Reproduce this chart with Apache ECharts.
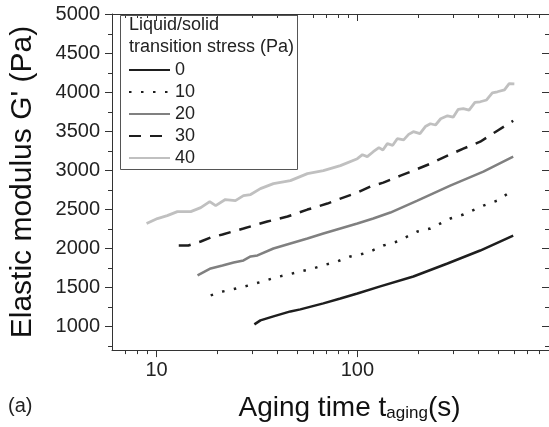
<!DOCTYPE html>
<html>
<head>
<meta charset="utf-8">
<script src="https://cdn.jsdelivr.net/npm/echarts@6/dist/echarts.min.js"></script>
<style>
html,body{margin:0;padding:0;background:#fff;}
#c{width:549px;height:427px;}
</style>
</head>
<body>
<div id="c"></div>
<script>
// ---- data (aging time in s, elastic modulus G' in Pa) ----
const seriesNames = ['0', '10', '20', '30', '40'];

const t0 = [30.7, 32.9, 38.2, 46.4, 52.0, 67.7, 82.3, 100, 130, 190, 281, 409, 597];
const g0 = [1029, 1080, 1132, 1195, 1221, 1298, 1361, 1425, 1515, 1642, 1808, 1974, 2166];

const t10 = [18.6, 21.5, 25.0, 28.7, 33.7, 39.1, 45.4, 52.0, 60.4, 70.1, 79.5, 92.2, 103.5, 116, 134.6, 158, 199, 231, 290, 337, 424, 498, 590];
const g10 = [1400, 1451, 1489, 1527, 1578, 1630, 1668, 1706, 1745, 1796, 1834, 1898, 1923, 1962, 2038, 2089, 2217, 2255, 2383, 2434, 2549, 2613, 2741];

const t20 = [16.0, 18.6, 21.3, 24.2, 27.1, 29.4, 31.8, 38.2, 46.4, 56.4, 67.7, 82.3, 100, 120, 146, 199, 290, 424, 597];
const g20 = [1655, 1745, 1783, 1821, 1847, 1898, 1911, 2000, 2064, 2128, 2191, 2255, 2319, 2383, 2460, 2613, 2805, 2983, 3175];

const t30 = [12.9, 14.4, 16.6, 18.6, 21.3, 23.9, 27.1, 30.4, 35.6, 44.9, 56.4, 70.9, 82.3, 100, 116, 134.6, 164, 190, 231, 281, 337, 409, 498, 597];
const g30 = [2038, 2038, 2089, 2140, 2179, 2217, 2255, 2294, 2345, 2409, 2498, 2575, 2638, 2715, 2792, 2843, 2932, 2996, 3085, 3188, 3277, 3366, 3507, 3634];

const t40 = [8.92, 10.1, 11.3, 12.7, 14.8, 16.6, 18.4, 19.7, 22.0, 24.7, 27.1, 29.4, 32.9, 38.2, 46.4, 56.4, 67.7, 82.3, 100, 106, 112, 120, 128, 134, 141, 150, 158, 170, 180, 190, 205, 218, 231, 245, 260, 281, 300, 318, 337, 360, 385, 409, 440, 470, 498, 540, 570, 605];
const g40 = [2319, 2383, 2421, 2472, 2472, 2523, 2600, 2549, 2626, 2613, 2677, 2690, 2766, 2830, 2868, 2958, 2996, 3060, 3149, 3200, 3175, 3238, 3290, 3260, 3341, 3320, 3405, 3390, 3460, 3494, 3470, 3560, 3596, 3580, 3660, 3698, 3680, 3780, 3788, 3770, 3870, 3877, 3900, 3990, 4005, 4030, 4110, 4107];

// axis ranges and minor tick values
const X_MIN = 6, X_MAX = 900;
const Y_MIN = 700, Y_MAX = 5000;
const xMinorTicks = [7, 8, 9, 20, 30, 40, 50, 60, 70, 80, 90, 200, 300, 400, 500, 600, 700, 800];
const yMinorTicks = [750, 1250, 1750, 2250, 2750, 3250, 3750, 4250, 4750];

const zip = (a, b) => a.map((v, i) => [v, b[i]]);
const AX = '#333';
const FONT = 'Liberation Sans, Arial, sans-serif';

const chart = echarts.init(document.getElementById('c'), null, {renderer: 'canvas'});

function mkLine(name, t, g, color, type, width) {
  return {
    name: name, type: 'line', data: zip(t, g), symbol: 'none', smooth: false,
    xAxisIndex: 0, yAxisIndex: 0,
    lineStyle: {color: color, width: width, type: type},
    itemStyle: {color: color},
    emphasis: {disabled: true}, animation: false, z: 3
  };
}

const option = {
  animation: false,
  backgroundColor: '#fff',
  grid: {left: 111, right: -2, top: 14, bottom: 75, containLabel: false},
  title: {
    text: 'Liquid/solid\ntransition stress (Pa)',
    left: 129, top: 14, padding: 0,
    textStyle: {fontFamily: FONT, fontSize: 18, fontWeight: 'normal', color: '#222', lineHeight: 22}
  },
  legend: {
    data: seriesNames,
    orient: 'vertical', left: 128, top: 61, padding: 0,
    itemWidth: 41, itemHeight: 14, itemGap: 4,
    itemStyle: {opacity: 0},
    textStyle: {fontFamily: FONT, fontSize: 18, color: '#222', lineHeight: 18},
    selectedMode: false
  },
  graphic: [
    {type: 'rect', left: 118, top: 13, shape: {width: 177, height: 154}, style: {fill: 'none', stroke: '#555', lineWidth: 1}, z: 10, silent: true},
    {type: 'text', left: 8, top: 396, style: {text: '(a)', fontFamily: FONT, fontSize: 20, fill: '#222'}}
  ],
  xAxis: [
    {
      type: 'log', logBase: 10, min: X_MIN, max: X_MAX, position: 'bottom',
      name: '{a|Aging time t}{b|aging}{a|(s)}', nameLocation: 'middle', nameGap: 34,
      nameTextStyle: {
        padding: [0, 0, 0, 38],
        rich: {
          a: {fontFamily: FONT, fontSize: 28, color: '#111', lineHeight: 28, verticalAlign: 'top'},
          b: {fontFamily: FONT, fontSize: 17, color: '#111', lineHeight: 17, verticalAlign: 'bottom', padding: [20, 0, 0, 0]}
        }
      },
      axisLine: {show: true, lineStyle: {color: AX, width: 1}},
      axisTick: {show: true, inside: false, length: 7, lineStyle: {color: AX}},
      axisLabel: {show: true, margin: 10, fontFamily: FONT, fontSize: 20, color: '#222', showMinLabel: false, showMaxLabel: false,
        formatter: v => String(Math.round(v))},
      splitLine: {show: false}, minorTick: {show: false}
    },
    {
      type: 'log', logBase: 10, min: X_MIN, max: X_MAX, position: 'top',
      axisLine: {show: true, lineStyle: {color: AX, width: 1}},
      axisTick: {show: true, inside: true, length: 7, lineStyle: {color: AX}},
      axisLabel: {show: false}, splitLine: {show: false}
    }
  ],
  yAxis: [
    {
      type: 'value', min: Y_MIN, max: Y_MAX, splitNumber: 9, position: 'left',
      name: "Elastic modulus G' (Pa)", nameLocation: 'middle', nameGap: 74, nameRotate: 90,
      nameTextStyle: {fontFamily: FONT, fontSize: 30, color: '#111'},
      axisLine: {show: true, lineStyle: {color: AX, width: 1}},
      axisTick: {show: true, inside: false, length: 7, lineStyle: {color: AX}},
      axisLabel: {show: true, margin: 12, fontFamily: FONT, fontSize: 20, color: '#222', showMinLabel: false,
        formatter: v => String(Math.round(v))},
      splitLine: {show: false}, minorTick: {show: false}
    },
    {
      type: 'value', min: Y_MIN, max: Y_MAX, splitNumber: 9, position: 'right',
      axisLine: {show: true, lineStyle: {color: AX, width: 1}},
      axisTick: {show: true, inside: true, length: 7, lineStyle: {color: AX}},
      axisLabel: {show: false}, splitLine: {show: false}
    }
  ],
  series: [
    mkLine('0', t0, g0, '#1e1e1e', 'solid', 2.5),
    mkLine('10', t10, g10, '#1e1e1e', [2.5, 9.5], 2.5),
    mkLine('20', t20, g20, '#808080', 'solid', 2.5),
    mkLine('30', t30, g30, '#1e1e1e', [12, 9], 2.5),
    mkLine('40', t40, g40, '#c0c0c0', 'solid', 2.8),
    {
      name: 'xminor', type: 'custom', silent: true, animation: false, clip: false,
      xAxisIndex: 0, yAxisIndex: 0,
      data: xMinorTicks.map(v => [v, Y_MIN]),
      renderItem: function (params, api) {
        const v = api.value(0);
        const b = api.coord([v, Y_MIN]);
        const t = api.coord([v, Y_MAX]);
        const x = Math.round(b[0]) + 0.5;
        return {type: 'group', children: [
          {type: 'line', shape: {x1: x, y1: b[1], x2: x, y2: b[1] + 4}, style: {stroke: AX, lineWidth: 1}},
          {type: 'line', shape: {x1: x, y1: t[1], x2: x, y2: t[1] + 4}, style: {stroke: AX, lineWidth: 1}}
        ]};
      }
    },
    {
      name: 'yminor', type: 'custom', silent: true, animation: false, clip: false,
      xAxisIndex: 0, yAxisIndex: 0,
      data: yMinorTicks.map(v => [X_MIN, v]),
      renderItem: function (params, api) {
        const v = api.value(1);
        const l = api.coord([X_MIN, v]);
        const r = api.coord([X_MAX, v]);
        const y = Math.round(l[1]) + 0.5;
        return {type: 'group', children: [
          {type: 'line', shape: {x1: l[0] - 4, y1: y, x2: l[0], y2: y}, style: {stroke: AX, lineWidth: 1}},
          {type: 'line', shape: {x1: r[0] - 4, y1: y, x2: r[0], y2: y}, style: {stroke: AX, lineWidth: 1}}
        ]};
      }
    }
  ]
};
chart.setOption(option);
</script>
</body>
</html>
